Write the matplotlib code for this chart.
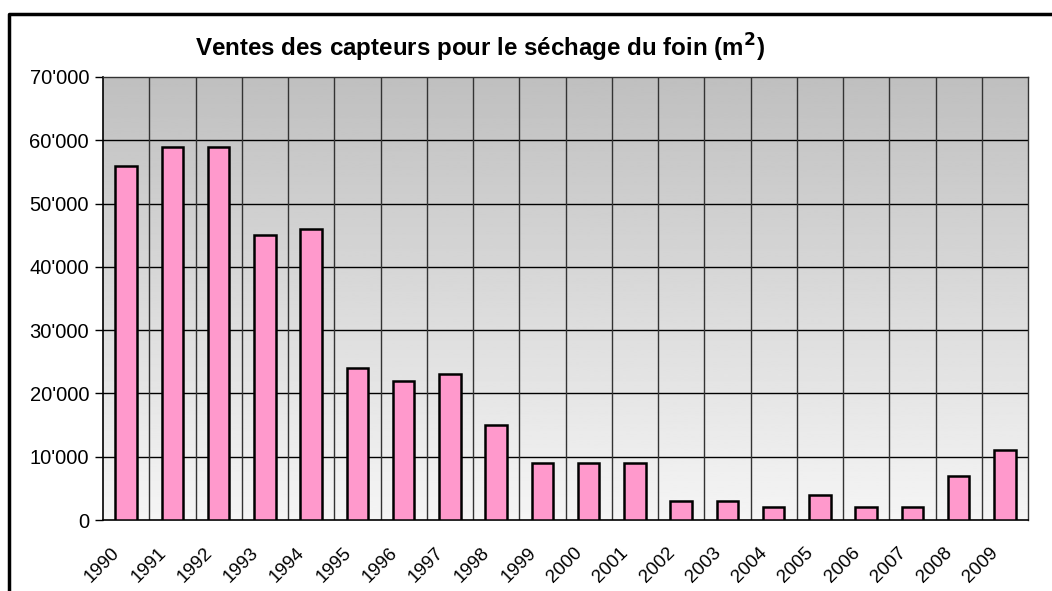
import matplotlib
matplotlib.use("Agg")
import matplotlib.pyplot as plt
import matplotlib.transforms as mtransforms
import numpy as np
from matplotlib.lines import Line2D
from matplotlib.ticker import FuncFormatter

years = [str(y) for y in range(1990, 2010)]
ventes = [56000, 59000, 59000, 45000, 46000, 24000, 22000, 23000, 15000, 9000,
          9000, 9000, 3000, 3000, 2000, 4000, 2000, 2000, 7000, 11000]

plt.rcParams['font.family'] = ['Liberation Sans', 'DejaVu Sans']


def fmt_milliers(v, pos):
    return "{:,}".format(int(v)).replace(",", "'")


def main():
    fig = plt.figure(figsize=(10.52, 5.91), dpi=100)
    ax = fig.add_axes([103 / 1052, 1 - 520 / 591, 925 / 1052, 443 / 591])

    # fond dégradé gris (foncé en haut, clair en bas)
    grad = np.linspace(0.96, 0.75, 256).reshape(-1, 1)
    ax.imshow(grad, extent=[0, 1, 0, 1], transform=ax.transAxes, cmap="gray",
              vmin=0, vmax=1, aspect="auto", origin="lower", zorder=0)

    x = np.arange(len(years))
    ax.bar(x, ventes, width=0.47, color="#ff99cc", edgecolor="black",
           linewidth=1.8, zorder=3)

    ax.set_xlim(-0.5, len(years) - 0.5)
    ax.set_ylim(0, 70000)
    ax.set_yticks(range(0, 70001, 10000))
    ax.yaxis.set_major_formatter(FuncFormatter(fmt_milliers))
    for y in range(10000, 70000, 10000):
        ax.axhline(y, color="black", linewidth=1.0, zorder=1)
    for xb in np.arange(0.5, len(years) - 0.5, 1):
        ax.axvline(xb, color="#333333", linewidth=1.0, zorder=1)

    ax.set_xticks(x)
    ax.set_xticklabels(years, rotation=45, ha="right", rotation_mode="anchor",
                       fontsize=13.5)
    ax.tick_params(axis="x", length=0, pad=8)
    ax.tick_params(axis="y", length=6, width=1, labelsize=14.5, pad=4)
    # décaler les étiquettes des années vers la gauche et le bas
    decal = mtransforms.ScaledTranslation(-15 / 100, -13 / 100, fig.dpi_scale_trans)
    for lab in ax.get_xticklabels():
        lab.set_transform(lab.get_transform() + decal)

    for s in ["left", "bottom"]:
        ax.spines[s].set_color("black")
        ax.spines[s].set_linewidth(1.2)
    for s in ["top", "right"]:
        ax.spines[s].set_color("#333333")
        ax.spines[s].set_linewidth(1.0)

    fig.text(480 / 1052, 1 - 48 / 591,
             "Ventes des capteurs pour le séchage du foin (m$^\\mathbf{2}$)",
             ha="center", va="center", fontsize=17.4, fontweight="bold")

    # cadre extérieur
    fig.add_artist(Line2D([9 / 1052, 9 / 1052, 1.0], [0, 1 - 13.5 / 591, 1 - 13.5 / 591],
                          transform=fig.transFigure, color="black", linewidth=2.5))

    plt.savefig("out.png", dpi=100)


if __name__ == '__main__':
    main()
